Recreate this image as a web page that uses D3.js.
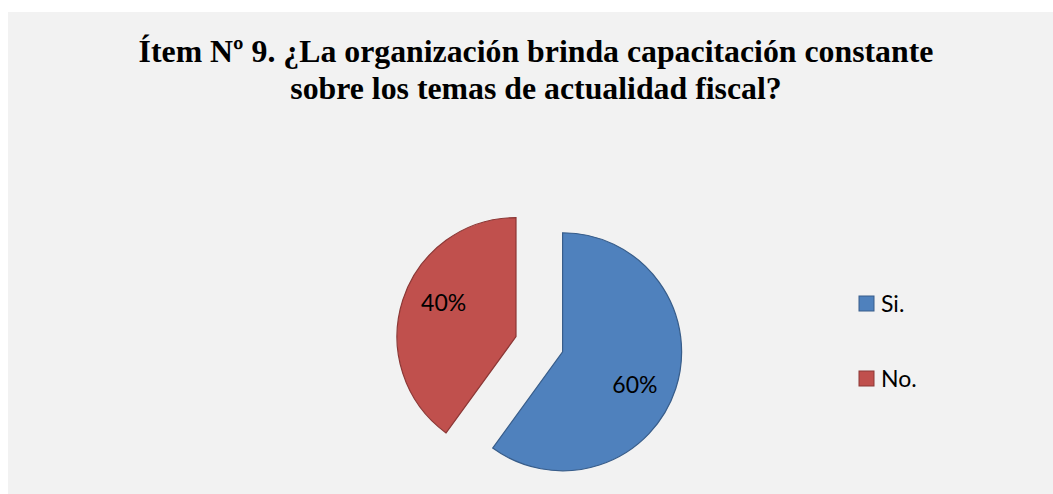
<!DOCTYPE html>
<html>
<head>
<meta charset="utf-8">
<script src="https://cdn.jsdelivr.net/npm/d3@7"></script>
<style>
  body { margin: 0; background: #ffffff; }
  svg { display: block; }
</style>
</head>
<body>
<svg width="1053" height="494"></svg>
<script>
var categories = ["Si.", "No."];
var values = [60, 40];
var titleLines = ["Ítem Nº 9. ¿La organización brinda capacitación constante",
                  "sobre los temas de actualidad fiscal?"];

var svg = d3.select("svg"),
    width = +svg.attr("width"),
    height = +svg.attr("height");

var fills = d3.scaleOrdinal().domain(categories).range(["#4f81bd", "#c0504d"]);
var strokes = d3.scaleOrdinal().domain(categories).range(["#385d8a", "#8c3836"]);

// chart area
svg.append("rect")
    .attr("x", 8).attr("y", 12)
    .attr("width", width - 8).attr("height", height - 12)
    .attr("fill", "#f2f2f2");

svg.append("g")
  .selectAll("text")
  .data(titleLines)
  .enter().append("text")
    .attr("x", 536)
    .attr("y", function(d, i) { return 62 + i * 36.7; })
    .attr("text-anchor", "middle")
    .attr("font-family", "'Liberation Serif', 'Times New Roman', serif")
    .attr("font-weight", "bold")
    .attr("font-size", 31.8)
    .attr("fill", "#000")
    .text(function(d) { return d; });

var cx = 539.3, cy = 344.2, r = 119, explode = 24.5;

var pie = d3.pie().sort(null).value(function(d) { return d.value; });
var arc = d3.arc().innerRadius(0).outerRadius(r);
// labels sit a little clockwise of the bisector, like Excel does
var labelArc = d3.arc().innerRadius(r * 0.67).outerRadius(r * 0.67);
function labelPos(d) {
  return labelArc.centroid({startAngle: d.startAngle + 0.12, endAngle: d.endAngle + 0.12});
}

var data = categories.map(function(c, i) { return {name: c, value: values[i]}; });
var total = d3.sum(values);

var slices = svg.append("g")
    .attr("transform", "translate(" + cx + "," + cy + ")")
  .selectAll("g")
  .data(pie(data))
  .enter().append("g")
    .attr("transform", function(d) {
      var a = (d.startAngle + d.endAngle) / 2;
      return "translate(" + (Math.sin(a) * explode) + "," + (-Math.cos(a) * explode) + ")";
    });

slices.append("path")
    .attr("d", arc)
    .attr("fill", function(d) { return fills(d.data.name); })
    .attr("stroke", function(d) { return strokes(d.data.name); })
    .attr("stroke-width", 1.2);

slices.append("text")
    .attr("transform", function(d) { return "translate(" + labelPos(d) + ")"; })
    .attr("dy", "0.35em")
    .attr("text-anchor", "middle")
    .attr("font-family", "Lato, Carlito, Calibri, sans-serif")
    .attr("font-size", 23)
    .attr("fill", "#000")
    .text(function(d) { return Math.round(d.data.value / total * 100) + "%"; });

// legend
var legend = svg.append("g")
  .selectAll("g")
  .data(categories)
  .enter().append("g")
    .attr("transform", function(d, i) { return "translate(859," + (296 + i * 75) + ")"; });

legend.append("rect")
    .attr("width", 15).attr("height", 15)
    .attr("fill", function(d) { return fills(d); })
    .attr("stroke", function(d) { return strokes(d); })
    .attr("stroke-width", 1);

legend.append("text")
    .attr("x", 22)
    .attr("y", 16)
    .attr("font-family", "Lato, Carlito, Calibri, sans-serif")
    .attr("font-size", 23)
    .attr("fill", "#000")
    .text(function(d) { return d; });
</script>
</body>
</html>
